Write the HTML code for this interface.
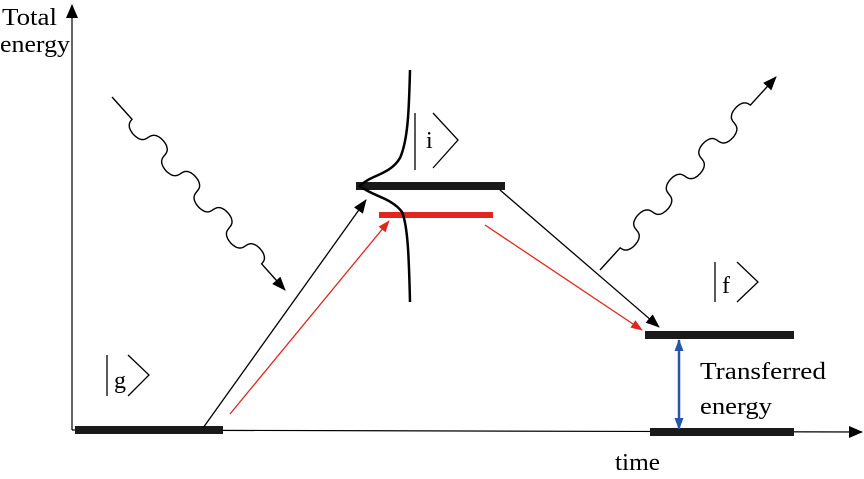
<!DOCTYPE html>
<html><head><meta charset="utf-8"><style>
body{margin:0;background:#fff}
svg text{font-family:"Liberation Serif","Times New Roman",serif}
</style></head><body>
<svg id="d" width="864" height="474" viewBox="0 0 864 474">
<defs>
<marker id="ab" markerWidth="14" markerHeight="14" refX="13" refY="7" orient="auto" markerUnits="userSpaceOnUse"><path d="M0,1.5 L14,7 L0,12.5 Z" fill="#000"/></marker>
<marker id="abig" markerWidth="14" markerHeight="14" refX="13" refY="7" orient="auto" markerUnits="userSpaceOnUse"><path d="M0,1 L14,7 L0,13 Z" fill="#000"/></marker>
<marker id="ar" markerWidth="12" markerHeight="12" refX="11" refY="6" orient="auto" markerUnits="userSpaceOnUse"><path d="M0,1.5 L12,6 L0,10.5 Z" fill="#e0261f"/></marker>
<marker id="bl" markerWidth="12" markerHeight="12" refX="11" refY="6" orient="auto" markerUnits="userSpaceOnUse"><path d="M0,1.5 L12,6 L0,10.5 Z" fill="#2457a8"/></marker>
</defs>
<line x1="72" y1="430" x2="72" y2="5" stroke="#000" stroke-width="1.2" marker-end="url(#abig)"/>
<line x1="72" y1="430" x2="862" y2="432" stroke="#000" stroke-width="1.2" marker-end="url(#abig)"/>
<text x="2" y="25" font-size="24" textLength="55" lengthAdjust="spacingAndGlyphs">Total</text>
<text x="0" y="52" font-size="24" textLength="70" lengthAdjust="spacingAndGlyphs">energy</text>
<text x="615" y="470" font-size="24" textLength="45" lengthAdjust="spacingAndGlyphs">time</text>

<rect x="75" y="426" width="148" height="8" fill="#1a1a1a"/>
<rect x="356" y="182" width="149" height="8" fill="#1a1a1a"/>
<rect x="379" y="212" width="114" height="6" fill="#e0261f"/>
<rect x="645" y="331" width="149" height="8" fill="#1a1a1a"/>
<rect x="650" y="428" width="144" height="8" fill="#1a1a1a"/>

<path d="M410,70 C409,110 408,140 400,158 C390,175 370,175 360,186 C372,196 392,198 402,212 C408,226 409,260 410,302" fill="none" stroke="#000" stroke-width="2.5"/>

<g stroke="#000" stroke-width="1.3" fill="none">
<line x1="107" y1="355" x2="107" y2="396"/><path d="M128,355 L149,375 L128,396"/></g>
<text x="114" y="388" font-size="24">g</text>
<g stroke="#000" stroke-width="1.3" fill="none">
<line x1="415" y1="113" x2="415" y2="170"/><path d="M433,113 L458,140 L433,168"/></g>
<text x="426" y="148" font-size="24">i</text>
<g stroke="#000" stroke-width="1.3" fill="none">
<line x1="715" y1="262" x2="715" y2="302"/><path d="M737,262 L758,282 L737,302"/></g>
<text x="722" y="293" font-size="24">f</text>

<line x1="203" y1="428" x2="366" y2="200" stroke="#000" stroke-width="1.3" marker-end="url(#ab)"/>
<line x1="230" y1="414" x2="389" y2="221" stroke="#e0261f" stroke-width="1.3" marker-end="url(#ar)"/>
<line x1="500" y1="190" x2="659" y2="327" stroke="#000" stroke-width="1.3" marker-end="url(#ab)"/>
<line x1="485" y1="225" x2="642" y2="330" stroke="#e0261f" stroke-width="1.3" marker-end="url(#ar)"/>
<line x1="679" y1="382" x2="679" y2="340" stroke="#2457a8" stroke-width="2.5" marker-end="url(#bl)"/>
<line x1="679" y1="382" x2="679" y2="429" stroke="#2457a8" stroke-width="2.5" marker-end="url(#bl)"/>
<text x="700" y="379" font-size="24" textLength="126" lengthAdjust="spacingAndGlyphs">Transferred</text>
<text x="700" y="414" font-size="24" textLength="72" lengthAdjust="spacingAndGlyphs">energy</text>
<path id="w1" fill="none" stroke="#000" stroke-width="1.4" marker-end="url(#ab)"/>
<path id="w2" fill="none" stroke="#000" stroke-width="1.4" marker-end="url(#ab)"/>
</svg>
<script>
function wave(x1,y1,x2,y2,n,amp,head,tail){
  const dx=x2-x1,dy=y2-y1,L=Math.hypot(dx,dy),ux=dx/L,uy=dy/L,px=-uy,py=ux;
  let d='M'+x1+','+y1;const W=L-head-tail;
  for(let i=0;i<=300;i++){const s=head+i/300*W;const t=i/300*n*2*Math.PI;
    const o=amp*Math.sin(t), f=0.35*amp*Math.sin(2*t);
    d+=' L'+(x1+ux*(s-f)+px*o).toFixed(1)+','+(y1+uy*(s-f)+py*o).toFixed(1);}
  d+=' L'+x2+','+y2;return d;}
document.getElementById('w1').setAttribute('d',wave(112,97,285,290,4,9,30,35));
document.getElementById('w2').setAttribute('d',wave(600,270,776,77,4,9,30,38));
</script>
</body></html>
